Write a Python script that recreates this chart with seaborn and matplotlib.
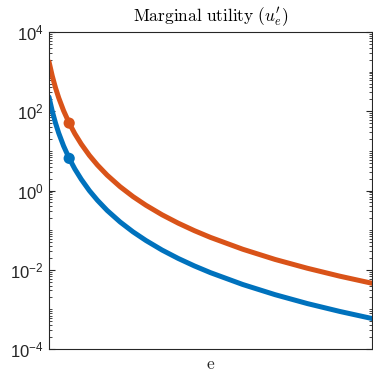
import matplotlib
matplotlib.use("Agg")
import matplotlib.pyplot as plt
import matplotlib.ticker as mticker
import numpy as np
import pandas as pd
import seaborn as sns

# ---- data ----
e_vals = [0.0, 0.01, 0.02, 0.03, 0.045, 0.0625, 0.08, 0.1, 0.125, 0.15, 0.18,
          0.22, 0.26, 0.3, 0.35, 0.4, 0.45, 0.5, 0.6, 0.7, 0.8, 0.9, 1.0]
u_high = [1778, 782, 394, 219, 104, 50.2, 27.1, 14.8, 7.69, 4.39, 2.44,
          1.25, 0.703, 0.425, 0.244, 0.150, 0.0970, 0.0655, 0.0329, 0.0182,
          0.0109, 0.00689, 0.00456]
u_low = [229, 101, 50.8, 28.2, 13.4, 6.47, 3.49, 1.91, 0.991, 0.566, 0.314,
         0.161, 0.0906, 0.0548, 0.0314, 0.0193, 0.0125, 0.00844, 0.00424,
         0.00235, 0.00140, 0.000888, 0.000588]
marker_e = [0.0625, 0.0625]
marker_u = [6.47, 50.2]
series_names = ["low", "high"]
ytick_vals = [1e-4, 1e-2, 1e0, 1e2, 1e4]
ytick_labels = [r"$\mathdefault{10^{-4}}$", r"$\mathdefault{10^{-2}}$",
                r"$\mathdefault{10^{0}}$", r"$\mathdefault{10^{2}}$",
                r"$\mathdefault{10^{4}}$"]

colors = {"low": "#0072BD", "high": "#D95319"}

df = pd.DataFrame({
    "e": e_vals + e_vals,
    "u": u_low + u_high,
    "series": ["low"] * len(e_vals) + ["high"] * len(e_vals),
})
df_m = pd.DataFrame({"e": marker_e, "u": marker_u, "series": series_names})

sns.set_style("ticks")
plt.rcParams["font.family"] = ["Liberation Sans", "DejaVu Sans"]
plt.rcParams["mathtext.fontset"] = "cm"

fig = plt.figure(figsize=(3.73, 3.74), dpi=100)
ax = fig.add_axes([49 / 373, 25 / 374, 323 / 373, 317 / 374])

sns.lineplot(data=df, x="e", y="u", hue="series", palette=colors,
             linewidth=3.6, legend=False, ax=ax, sort=False)
sns.scatterplot(data=df_m, x="e", y="u", hue="series", palette=colors,
                s=65, marker="o", edgecolor="none", legend=False, ax=ax,
                zorder=5)

ax.set_yscale("log")
ax.set_xlim(0, 1)
ax.set_ylim(1e-4, 1e4)
ax.set_yticks(ytick_vals)
ax.set_yticklabels(ytick_labels)
ax.yaxis.set_minor_locator(mticker.LogLocator(base=10, subs=np.arange(1, 10), numticks=100))
ax.yaxis.set_minor_formatter(mticker.NullFormatter())
ax.set_xticks([])

spine_c = "#262626"
for s in ax.spines.values():
    s.set_visible(True)
    s.set_color(spine_c)
    s.set_linewidth(0.8)

ax.tick_params(axis="y", which="major", direction="in", length=4, width=0.8,
               color=spine_c, labelsize=12, labelcolor=spine_c, right=True, pad=4)
ax.tick_params(axis="y", which="minor", direction="in", length=2, width=0.6,
               color=spine_c, right=True)

ax.set_title(r"$\mathrm{Marginal\ utility}\ (u^{\prime}_{e})$", fontsize=12.5,
             pad=7, color="black")
ax.set_xlabel(r"$\mathrm{e}$", fontsize=12.5, labelpad=6)
ax.set_ylabel("")

fig.savefig("out.png", dpi=100)
